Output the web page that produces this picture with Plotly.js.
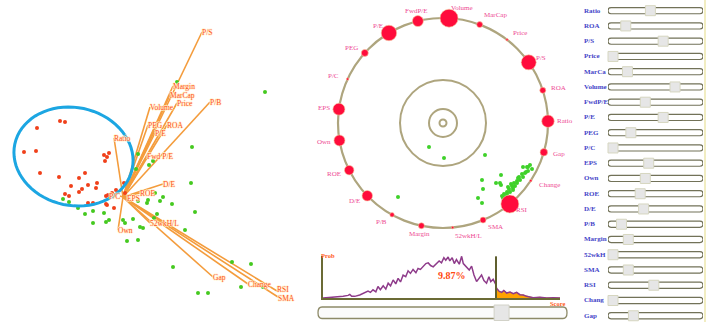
<!DOCTYPE html>
<html><head><meta charset="utf-8">
<script src="https://cdn.plot.ly/plotly-3.0.1.min.js"></script>
<style>html,body{margin:0;padding:0;background:#fff}#chart{width:715px;height:322px}</style>
</head><body><div id="chart"></div>
<script>
// ---------- Biplot (left) ----------
const redPC1 = [-6.3,-5.8,-8.6,-9.9,-8.7,-1.9,-1.6,-1.4,-1.8,-8.3,-6.4,-4.4,-3.8,-5.2,-3.5,-2.6,-2.7,-4.1,-4.4,-5.8,-5.4,-3.5,-3.0,-1.7,-1.5,-1.1,-0.7,0.1,-1.7,-1.6,-0.9,0.2];
const redPC2 = [7.6,7.5,6.9,4.5,4.6,4.2,4.0,4.4,3.6,2.4,2.0,1.9,2.4,1.1,1.2,1.4,0.9,0.8,0.5,0.3,0.1,-0.6,-0.6,0.1,0.2,0.4,0.7,1.4,-0.7,-0.8,-1.1,0.4];
const greenPC1 = [14.2,6.9,5.4,3.0,2.6,1.3,1.5,6.8,4.0,3.7,4.9,2.5,3.2,1.5,2.4,7.2,3.4,3.1,6.2,1.7,2.0,1.0,0.0,0.2,-1.4,-1.7,-1.9,-3.0,-3.8,-3.0,-4.5,-6.0,-5.4,0.4,1.5,5.0,10.9,12.8,11.8,7.5,8.5,14.0];
const greenPC2 = [10.5,5.0,11.5,3.6,3.2,2.8,4.3,1.4,0.0,-0.4,-0.7,-0.3,0.4,-0.4,-0.6,-1.5,-1.7,-2.1,-3.3,-3.0,-3.1,-2.2,-2.3,-2.6,-2.3,-2.5,-1.6,-2.6,-1.7,-1.4,-1.1,-0.2,-0.5,-4.4,-4.3,-7.0,-6.5,-6.7,-9.0,-9.6,-9.6,-9.0];
const loadNames = ['P/S','Margin','MarCap','Price','P/B','Volume','ROA','PEG','P/E','Ratio','Fwd P/E','D/E','ROE','P/C','EPS','Own','52wkH/L','Gap','Change','RSI','SMA'];
const loadX = [7.9,5.0,4.7,5.4,8.7,2.7,4.4,2.5,3.2,-0.9,2.4,4.0,1.7,-0.3,0.4,-0.5,2.7,9.0,12.5,15.4,15.5];
const loadY = [16.5,11.1,10.2,9.4,9.5,9.0,7.2,7.2,6.4,5.9,4.1,1.3,0.4,0.1,-0.1,-3.3,-2.6,-8.0,-8.7,-9.4,-10.0];

// ---------- Radial view (middle) ----------
const ringNames = ['Volume','MarCap','Price','P/S','ROA','Ratio','Gap','Change','RSI','SMA','52wkH/L','Margin','P/B','D/E','ROE','Own','EPS','P/C','PEG','P/E','FwdP/E'];
const ringWeights = [18,6,2.5,15,6,12.5,7.5,2.5,18,6,2.5,6,4.5,10.5,9.5,11,12,2.5,7,15.5,11];
const innerX = [-1.4,0.1,4.2,3.9,5.8,5.3,5.8,4.0,3.5,3.9,-4.5,8.7,8.4,8.0,8.9,8.5,8.2,7.9,8.0,7.6,7.7,7.4,7.4,7.1,7.2,6.9,7.0,6.6,6.7,6.4,6.4,6.1,6.2,5.9,6.0,7.0,7.5,8.3,5.7,6.8,6.5,8.5];
const innerY = [-2.4,-3.5,-3.2,-5.7,-5.2,-6.0,-6.2,-6.6,-7.5,-8.0,-7.4,-4.2,-4.4,-4.4,-4.6,-4.8,-5.0,-5.1,-5.4,-5.4,-5.7,-5.8,-6.0,-6.0,-6.3,-6.3,-6.5,-6.6,-6.9,-6.9,-7.1,-7.1,-7.4,-7.3,-7.5,-6.7,-5.5,-4.9,-6.0,-6.1,-6.4,-4.4];

// ---------- Score distribution (bottom) ----------
const score = [0,4.2,6.3,8.5,10.6,11.3,12.1,13.4,15.5,17.6,19.0,20.0,21.1,22.3,23.2,24.2,25.4,26.5,27.5,28.5,29.6,30.7,31.7,32.7,33.8,34.9,35.9,36.9,38.0,39.2,40.1,41.1,42.3,43.4,44.4,45.4,46.5,47.9,49.0,50.0,51.0,51.8,52.8,53.5,54.5,55.4,56.3,57.5,58.5,59.2,60.6,61.7,62.7,63.7,64.8,65.8,66.9,67.9,69.0,70.0,70.8,71.8,73.0,73.2,74.4,75.4,76.3,77.5,78.9,80.3,81.7,83.1,84.5,85.9,87.3,88.7,91.5,94.4,97.2,100];
const prob = [0,0.04,0.06,0.10,0.16,0.22,0.10,0.10,0.18,0.30,0.42,0.34,0.50,0.38,0.70,0.50,0.74,0.54,0.90,0.74,1.10,0.86,1.20,0.98,1.40,1.30,1.66,1.50,1.74,1.54,1.80,1.74,1.94,2.10,2.14,1.98,1.90,2.10,2.26,2.14,2.46,2.30,2.50,2.26,2.46,2.10,2.34,2.06,2.54,2.10,1.86,1.70,1.94,1.40,1.00,1.20,1.40,1.06,0.90,1.30,1.00,1.14,0.80,0.60,0.40,0.34,0.46,0.30,0.36,0.26,0.34,0.20,0.18,0.10,0.06,0.02,0.04,0,0.02,0];
const threshold = 73.0;
const tailLabel = '9.87%';

// ---------- Weight sliders (right) ----------
const sliderNames = ['Ratio','ROA','P/S','Price','MarCa','Volume','FwdP/E','P/E','PEG','P/C','EPS','Own','ROE','D/E','P/B','Margin','52wkH','SMA','RSI','Chang','Gap'];
const sliderValues = [44,15,59,0,17,73,38,59,21,0,42,38,32,36,10,18,0,18,48,0,24];

// ===== layout helpers =====
const W = 715, H = 322;
const px = v => v / W, py = v => 1 - v / H;
const serif = 'Liberation Serif, Times New Roman, serif';
const noAx = {visible:false, showgrid:false, zeroline:false, fixedrange:true};

const traces = [];
const shapes = [];
const annotations = [];

function pill(x0, x1, y0, y1, xr) {
  const ym = (y0 + y1) / 2;
  return 'M' + (x0+xr) + ',' + y1 + ' L' + (x1-xr) + ',' + y1 +
    ' Q' + x1 + ',' + y1 + ' ' + x1 + ',' + ym + ' Q' + x1 + ',' + y0 + ' ' + (x1-xr) + ',' + y0 +
    ' L' + (x0+xr) + ',' + y0 + ' Q' + x0 + ',' + y0 + ' ' + x0 + ',' + ym +
    ' Q' + x0 + ',' + y1 + ' ' + (x0+xr) + ',' + y1 + ' Z';
}

// Biplot loading lines
const lx = [], ly = [];
loadX.forEach((v,i)=>{ lx.push(0, v, null); ly.push(0, loadY[i], null); });
traces.push({type:'scatter', mode:'lines', x:lx, y:ly, xaxis:'x', yaxis:'y',
  line:{color:'#f49c3c', width:1.6}, hoverinfo:'skip'});
traces.push({type:'scatter', mode:'markers', x:greenPC1, y:greenPC2, xaxis:'x', yaxis:'y',
  marker:{color:'#45c91f', size:4}});
traces.push({type:'scatter', mode:'markers', x:redPC1, y:redPC2, xaxis:'x', yaxis:'y',
  marker:{color:'#f0401a', size:4}});
const halo = '1px 0 0 #fff6d0, -1px 0 0 #fff6d0, 0 1px 0 #fff6d0, 0 -1px 0 #fff6d0';
loadNames.forEach((nm,i)=>{
  annotations.push({xref:'x', yref:'y', x:loadX[i], y:loadY[i], text:nm, showarrow:false,
    xanchor: nm==='P/C' ? 'right' : 'left', yanchor:'middle', borderpad:0,
    xshift: nm==='P/C' ? 1 : -1.5, yshift: nm==='RSI' ? 1.5 : (nm==='SMA' ? -1.5 : 0),
    font:{family:serif, size:7.5, color:'#ff4d1a', shadow:halo}});
});

// Ellipse highlight
(function(){
  const cx=-4.95, cy=4.05, a=6.0, b=4.9, rot=-12*Math.PI/180;
  let d='';
  for(let k=0;k<=72;k++){
    const t=2*Math.PI*k/72;
    const ex=a*Math.cos(t), ey=b*Math.sin(t);
    const X=cx+ex*Math.cos(rot)-ey*Math.sin(rot);
    const Y=cy+ex*Math.sin(rot)+ey*Math.cos(rot);
    d += (k===0?'M':'L') + X.toFixed(3) + ',' + Y.toFixed(3);
  }
  shapes.push({type:'path', xref:'x', yref:'y', path:d+'Z', line:{color:'#1ca6e2', width:3}});
})();

// Ring
const R = 10.5, n = ringNames.length, off = 3.3;
const ang = ringNames.map((_,i)=> (off + i*360/n) * Math.PI/180);
const ringX = ang.map(a => R*Math.sin(a));
const ringY = ang.map(a => R*Math.cos(a));
const ringCol = '#aea57e';
shapes.push({type:'circle', xref:'x2', yref:'y2', x0:-R, x1:R, y0:-R, y1:R, line:{color:ringCol, width:2.2}, layer:'below'});
[4.3,1.4,0.35].forEach(r => shapes.push({type:'circle', xref:'x2', yref:'y2', x0:-r, x1:r, y0:-r, y1:r, line:{color:ringCol, width:2}, layer:'below'}));
traces.push({type:'scatter', mode:'markers', x:innerX, y:innerY, xaxis:'x2', yaxis:'y2',
  marker:{color:'#3fd12a', size:4}});
traces.push({type:'scatter', mode:'markers', x:ringX, y:ringY, xaxis:'x2', yaxis:'y2',
  marker:{color:'#ff0c3c', size:ringWeights, line:{color:'#f7c9a0', width:0.6}, opacity:1},
  cliponaxis:false});
ringNames.forEach((nm,i)=>{
  const s = Math.sin(ang[i]), c = Math.cos(ang[i]);
  annotations.push({xref:'x2', yref:'y2', x:ringX[i], y:ringY[i], text:nm, showarrow:false,
    xanchor: s > 0.05 ? 'left' : (s < -0.25 ? 'right' : 'center'), yanchor:'middle',
    xshift: 7*s, yshift: 8*c + (c > 0.9 ? 2 : 0),
    font:{family:serif, size:7, color:'#ee4a93'}});
});

// Score distribution
const tailX = [], tailY = [];
score.forEach((s,i)=>{ if(s>=threshold){ tailX.push(s); tailY.push(prob[i]); } });
traces.push({type:'scatter', mode:'lines', x:tailX, y:tailY, xaxis:'x3', yaxis:'y3',
  fill:'tozeroy', fillcolor:'#ffa200', line:{color:'#e59a20', width:1}});
traces.push({type:'scatter', mode:'lines', x:score, y:prob, xaxis:'x3', yaxis:'y3',
  line:{color:'#8e3b8a', width:1.5}});
shapes.push({type:'line', xref:'x3', yref:'y3', x0:threshold, x1:threshold, y0:0, y1:2.54, line:{color:'#5f5f2e', width:2}});
annotations.push({xref:'x3', yref:'y3', x:54.5, y:1.35, text:'<b>'+tailLabel+'</b>', showarrow:false,
  font:{family:serif, size:10, color:'#ff4a12'}});
annotations.push({xref:'paper', yref:'paper', x:px(319), y:py(255), xanchor:'left', yanchor:'middle', text:'<b>Prob</b>', showarrow:false,
  font:{family:serif, size:6.5, color:'#ff5a1a'}});
annotations.push({xref:'paper', yref:'paper', x:px(548), y:py(303), xanchor:'left', yanchor:'middle', text:'<b>Score</b>', showarrow:false,
  font:{family:serif, size:6.5, color:'#ff5a1a'}});

// Threshold slider (rail + handle)
shapes.push({type:'path', xref:'paper', yref:'paper', path:pill(px(318), px(567), py(318.5), py(307), px(4)),
  line:{color:'#8d8a68', width:1.3}, fillcolor:'#fbfbfb'});
shapes.push({type:'rect', xref:'x3', yref:'paper', x0:threshold-0.8, x1:threshold+5.5, y0:py(320.5), y1:py(305), line:{color:'#d2d2c8', width:1}, fillcolor:'#e6e6e6'});

// Weight sliders
sliderNames.forEach((nm,i)=>{
  shapes.push({type:'path', xref:'x4', yref:'y4', path:pill(-5.9, 105.9, i+0.2, i-0.2, 3.6),
    line:{color:'#727258', width:1.2}, fillcolor:'#ffffff', layer:'below'});
  annotations.push({xref:'paper', yref:'y4', x:px(582), y:i, xanchor:'left', yanchor:'middle', text:'<b>'+nm+'</b>', showarrow:false,
    font:{family:serif, size:7, color:'#4545c8'}});
});
traces.push({type:'scatter', mode:'markers', x:sliderValues, y:sliderNames.map((_,i)=>i), xaxis:'x4', yaxis:'y4',
  marker:{symbol:'square', size:10, color:'#e6e6e6', line:{color:'#d6d6c0', width:1}}, cliponaxis:false});
shapes.push({type:'line', xref:'paper', yref:'paper', x0:px(705), x1:px(705), y0:0, y1:1, line:{color:'#f1edc2', width:2}});

const layout = {
  width:W, height:H, margin:{l:0,r:0,t:0,b:0}, paper_bgcolor:'#fff', plot_bgcolor:'rgba(0,0,0,0)',
  showlegend:false, hovermode:false,
  xaxis: Object.assign({}, noAx, {domain:[0, px(300)], range:[-12.3, 17.7]}),
  yaxis: Object.assign({}, noAx, {domain:[0,1], range:[-12.5, 19.7]}),
  xaxis2: Object.assign({}, noAx, {domain:[px(300), px(586)], range:[-14.3, 14.3]}),
  yaxis2: Object.assign({}, noAx, {domain:[py(240), 1], range:[-11.7, 12.3]}),
  xaxis3: {domain:[px(323), px(560)], range:[0,100], showline:true, linecolor:'#6b6b35', linewidth:2, showgrid:false, zeroline:false, showticklabels:false, ticks:'', fixedrange:true, anchor:'y3'},
  yaxis3: {domain:[py(298), py(256)], range:[0,2.56], showline:true, linecolor:'#6b6b35', linewidth:2, showgrid:false, zeroline:false, showticklabels:false, ticks:'', fixedrange:true, anchor:'x3'},
  xaxis4: Object.assign({}, noAx, {domain:[px(608), px(703)], range:[-5.9, 105.9], anchor:'y4'}),
  yaxis4: Object.assign({}, noAx, {domain:[0,1], range:[20.41, -0.70], anchor:'x4'}),
  shapes, annotations
};
Plotly.newPlot('chart', traces, layout, {staticPlot:true, displayModeBar:false});
</script></body></html>
